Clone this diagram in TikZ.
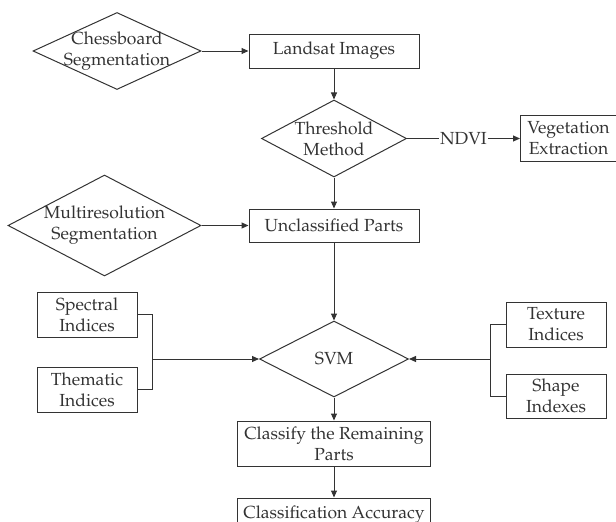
\documentclass[tikz,border=0pt]{standalone}
\usepackage[T1]{fontenc}
\usepackage{mathpazo}
\usetikzlibrary{arrows.meta,positioning,shapes.geometric}
\definecolor{ink}{HTML}{333333}

\begin{document}
\begin{tikzpicture}[x=1pt, y=-1pt, line width=1pt, color=ink,
    font=\fontsize{17.5}{21}\selectfont,
    box/.style={rectangle, draw, align=center, inner sep=2pt},
    decision/.style={diamond, draw, inner sep=0pt},
    every label/.style={align=center, text=ink},
    flow/.style={-{Triangle[length=7pt, width=6pt]}}]
  \useasboundingbox (0,0) rectangle (616,522);
  \node[box, minimum width=170pt, minimum height=34pt] (landsat) at (334,51) {Landsat Images};
  \node[decision, minimum width=168pt, minimum height=77pt, left=47pt of landsat,
    label={center:Chessboard\\Segmentation}] (chess) {};
  \node[decision, minimum width=145pt, minimum height=77pt, below=31pt of landsat,
    label={center:Threshold\\Method}] (thresh) {};
  \node[box, minimum width=96pt, minimum height=46pt, right=113pt of thresh] (veg) {Vegetation\\Extraction};
  \node[box, minimum width=170pt, minimum height=33pt, below=31pt of thresh] (unclass) {Unclassified Parts};
  \node[decision, minimum width=193pt, minimum height=101pt, left=47pt of unclass,
    label={center:Multiresolution\\Segmentation}] (multi) {};
  \node[decision, minimum width=149pt, minimum height=76pt, below=78pt of unclass,
    label={center:SVM}] (svm) {};
  \node[box, minimum width=193pt, minimum height=45pt, below=23pt of svm] (classify) {Classify the Remaining\\Parts};
  \node[box, minimum width=193pt, minimum height=34pt, below=31pt of classify] (accuracy) {Classification Accuracy};
  \node[box, minimum width=100pt, minimum height=45pt] (spectral) at (87,314.5) {Spectral\\Indices};
  \node[box, minimum width=100pt, minimum height=45pt] (thematic) at (87,389.5) {Thematic\\Indices};
  \node[box, minimum width=100pt, minimum height=45pt] (texture) at (556,324.5) {Texture\\Indices};
  \node[box, minimum width=100pt, minimum height=44pt] (shape) at (556,396) {Shape\\Indexes};
  \coordinate (ljoin) at ([xshift=15pt]spectral.east |- svm);
  \coordinate (rjoin) at ([xshift=-15pt]texture.west |- svm);
  \draw[flow] (chess) -- (landsat);
  \draw[flow] (landsat) -- (thresh);
  \draw[flow] (thresh) -- node[fill=white, inner sep=1pt] (ndvi) {NDVI} (veg);
  \draw[flow] (thresh) -- (unclass);
  \draw[flow] (multi) -- (unclass);
  \draw[flow] (unclass) -- (svm);
  % index groups feed the classifier from both sides
  \draw (spectral.east) -| (ljoin); \draw (thematic.east) -| (ljoin);
  \draw[flow] (ljoin) -- (svm.west);
  \draw (texture.west) -| (rjoin); \draw (shape.west) -| (rjoin);
  \draw[flow] (rjoin) -- (svm.east);
  \draw[flow] (svm) -- (classify);
  \draw[flow] (classify) -- (accuracy);
\end{tikzpicture}
\end{document}
